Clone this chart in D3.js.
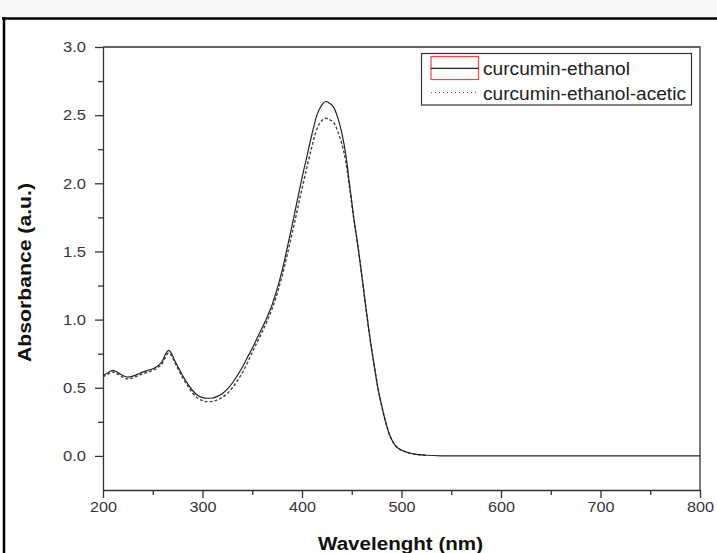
<!DOCTYPE html>
<html>
<head>
<meta charset="utf-8">
<script src="https://cdn.jsdelivr.net/npm/d3@7"></script>
<style>
  body { margin: 0; background: #fff; }
  svg { display: block; font-family: "Liberation Sans", Arial, sans-serif; }
  .axis path, .axis line { stroke: #333; stroke-width: 1.3; }
  .axis text { fill: #353535; font-size: 15px; }
</style>
</head>
<body>
<div id="chart"></div>
<script>
var width = 717,
    height = 553;

// data
var wavelengths = [200, 205, 210, 215, 220, 225, 230, 235, 240, 245, 250, 255, 260, 263, 266, 269, 272, 276,
  280, 285, 290, 295, 300, 305, 310, 315, 320, 325, 330, 335, 340, 345, 350, 355, 360, 365, 370, 375,
  380, 385, 390, 395, 400, 405, 410, 415, 420, 424, 428, 432, 436, 440, 444, 448, 452, 456, 460, 464,
  468, 472, 476, 480, 484, 488, 492, 496, 500, 505, 510, 515, 520, 525, 540, 560, 800];

var ethanol = [0.59, 0.61, 0.628, 0.612, 0.59, 0.578, 0.585, 0.60, 0.615, 0.628, 0.64, 0.66, 0.70, 0.75, 0.775, 0.75, 0.70, 0.645,
  0.59, 0.53, 0.48, 0.445, 0.428, 0.423, 0.425, 0.437, 0.458, 0.49, 0.535, 0.59, 0.65, 0.72, 0.79, 0.865, 0.94, 1.02, 1.11, 1.225,
  1.36, 1.52, 1.69, 1.865, 2.04, 2.20, 2.36, 2.50, 2.575, 2.60, 2.585, 2.555, 2.48, 2.37, 2.21, 1.98, 1.75, 1.55, 1.33, 1.10,
  0.88, 0.69, 0.51, 0.37, 0.25, 0.155, 0.095, 0.06, 0.042, 0.028, 0.018, 0.012, 0.008, 0.005, 0.001, 0, 0];

var acetic = [0.58, 0.60, 0.615, 0.60, 0.578, 0.565, 0.572, 0.588, 0.603, 0.615, 0.628, 0.648, 0.685, 0.73, 0.755, 0.735, 0.69, 0.63,
  0.575, 0.515, 0.462, 0.425, 0.405, 0.398, 0.40, 0.412, 0.43, 0.458, 0.50, 0.55, 0.61, 0.68, 0.76, 0.835, 0.91, 0.99, 1.08, 1.19,
  1.32, 1.47, 1.63, 1.795, 1.96, 2.12, 2.27, 2.40, 2.46, 2.477, 2.465, 2.445, 2.38, 2.29, 2.16, 1.96, 1.74, 1.55, 1.33, 1.10,
  0.88, 0.69, 0.51, 0.37, 0.25, 0.155, 0.095, 0.06, 0.042, 0.028, 0.018, 0.012, 0.008, 0.005, null, null, null];

var seriesNames = ["curcumin-ethanol", "curcumin-ethanol-acetic"];
var xTicks = [200, 300, 400, 500, 600, 700, 800];
var yTicks = [0, 0.5, 1.0, 1.5, 2.0, 2.5, 3.0];

var margin = {top: 47, right: 17, bottom: 63, left: 103};

var svg = d3.select("#chart").append("svg")
    .attr("width", width)
    .attr("height", height);

// grey strip and black frame of the screenshot
svg.append("rect").attr("x", 0).attr("y", 0).attr("width", width).attr("height", 17).attr("fill", "#f7f7f7");
svg.append("line").attr("x1", 2).attr("x2", width).attr("y1", 18.5).attr("y2", 18.5)
    .attr("stroke", "#000").attr("stroke-width", 2.5);
svg.append("line").attr("x1", 4).attr("x2", 4).attr("y1", 17.3).attr("y2", height)
    .attr("stroke", "#000").attr("stroke-width", 2.5);

var x = d3.scaleLinear().domain([200, 800]).range([margin.left, width - margin.right]);
var y = d3.scaleLinear().domain([-0.25, 3.0]).range([height - margin.bottom, margin.top]);

// top and right frame lines
svg.append("path")
    .attr("d", "M" + x(200) + "," + y(3) + "H" + x(800) + "V" + y(-0.25))
    .attr("fill", "none").attr("stroke", "#333").attr("stroke-width", 1.3);

// minor ticks
svg.append("g").attr("class", "axis")
    .attr("transform", "translate(0," + y(-0.25) + ")")
    .call(d3.axisBottom(x).tickValues([250, 350, 450, 550, 650, 750]).tickSize(5).tickFormat(""))
    .select(".domain").remove();
svg.append("g").attr("class", "axis")
    .attr("transform", "translate(" + x(200) + ",0)")
    .call(d3.axisLeft(y).tickValues([0.25, 0.75, 1.25, 1.75, 2.25, 2.75]).tickSize(5).tickFormat(""))
    .select(".domain").remove();

var xAxis = svg.append("g").attr("class", "axis")
    .attr("transform", "translate(0," + y(-0.25) + ")")
    .call(d3.axisBottom(x).tickValues(xTicks).tickSizeInner(8).tickSizeOuter(0).tickPadding(3).tickFormat(d3.format("d")));
xAxis.selectAll("text").attr("textLength", 27).attr("lengthAdjust", "spacingAndGlyphs");

var yAxis = svg.append("g").attr("class", "axis")
    .attr("transform", "translate(" + x(200) + ",0)")
    .call(d3.axisLeft(y).tickValues(yTicks).tickSizeInner(8).tickSizeOuter(0).tickPadding(9).tickFormat(d3.format(".1f")));
yAxis.selectAll("text").attr("textLength", 23).attr("lengthAdjust", "spacingAndGlyphs");

// curves
var line = function(vals) {
  return d3.line()
    .defined(function(d, i) { return vals[i] != null; })
    .x(function(d) { return x(d); })
    .y(function(d, i) { return y(vals[i]); })
    .curve(d3.curveMonotoneX)(wavelengths);
};

svg.append("path")
    .attr("d", line(acetic))
    .attr("fill", "none").attr("stroke", "#444").attr("stroke-width", 1.4)
    .attr("stroke-dasharray", "3,2");

svg.append("path")
    .attr("d", line(ethanol))
    .attr("fill", "none").attr("stroke", "#222").attr("stroke-width", 1.2);

// axis titles
svg.append("text")
    .attr("x", 400.5).attr("y", 550)
    .attr("text-anchor", "middle")
    .attr("font-size", 18).attr("font-weight", "bold").attr("fill", "#111")
    .attr("textLength", 165).attr("lengthAdjust", "spacingAndGlyphs")
    .text("Wavelenght (nm)");

svg.append("text")
    .attr("transform", "translate(31,272.5) rotate(-90)")
    .attr("text-anchor", "middle")
    .attr("font-size", 18).attr("font-weight", "bold").attr("fill", "#111")
    .attr("textLength", 179).attr("lengthAdjust", "spacingAndGlyphs")
    .text("Absorbance (a.u.)");

// legend
var legend = svg.append("g");
legend.append("rect")
    .attr("x", 421.5).attr("y", 53.5).attr("width", 270).attr("height", 51.5)
    .attr("fill", "#fff").attr("stroke", "#333").attr("stroke-width", 1.2);
legend.append("rect")
    .attr("x", 431).attr("y", 56.5).attr("width", 47.5).attr("height", 23)
    .attr("fill", "none").attr("stroke", "#f04848").attr("stroke-width", 1.2);
legend.append("line")
    .attr("x1", 431).attr("x2", 478.5).attr("y1", 68.3).attr("y2", 68.3)
    .attr("stroke", "#222").attr("stroke-width", 1.3);
legend.append("line")
    .attr("x1", 431).attr("x2", 478.5).attr("y1", 92.5).attr("y2", 92.5)
    .attr("stroke", "#555").attr("stroke-width", 1.2).attr("stroke-dasharray", "1,3");

var legendLens = [147, 203];
legend.selectAll(".ltext")
    .data(seriesNames).enter().append("text")
    .attr("class", "ltext")
    .attr("x", 483)
    .attr("y", function(d, i) { return 75 + i * 24.5; })
    .attr("font-size", 17.5).attr("fill", "#222")
    .attr("textLength", function(d, i) { return legendLens[i]; })
    .attr("lengthAdjust", "spacingAndGlyphs")
    .text(function(d) { return d; });
</script>
</body>
</html>
